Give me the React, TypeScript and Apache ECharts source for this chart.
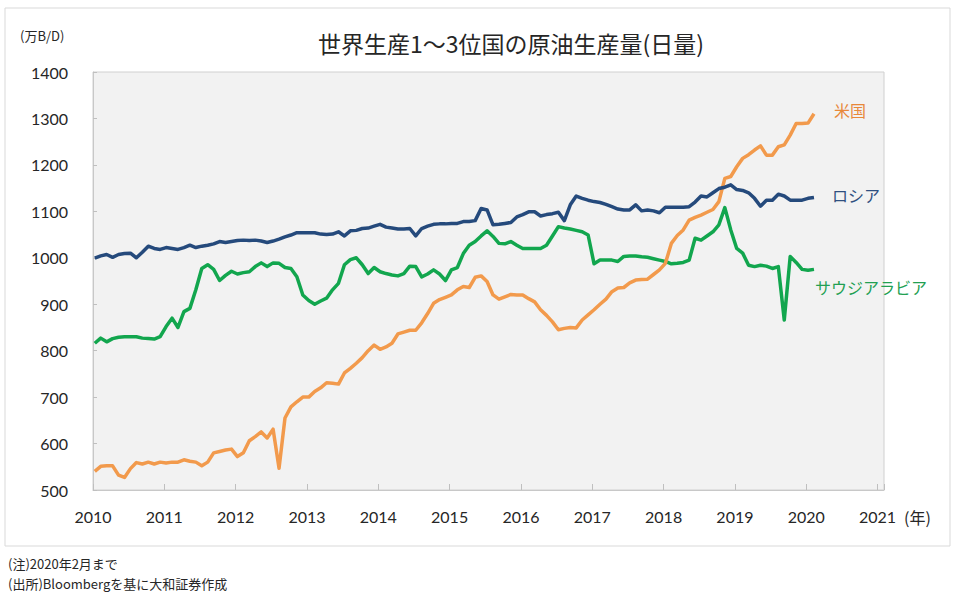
import React, { useEffect, useRef } from "react";
import * as echarts from "echarts";

// Monthly data, Jan 2010 – Feb 2020 (万B/D)
const START_YEAR = 2010;
const usValues = [
  540, 551, 552, 552, 532, 527, 546, 559, 556, 560, 556, 560,
  558, 560, 560, 565, 562, 560, 552, 560, 580, 583, 586, 588,
  572, 580, 606, 615, 625, 612, 631, 547, 655, 679, 690, 700,
  700, 712, 720, 731, 730, 728, 752, 762, 773, 785, 800, 812,
  803, 808, 816, 836, 840, 844, 844, 860, 880, 902, 910, 915,
  920, 931, 938, 936, 958, 961, 949, 920, 911, 916, 921, 920,
  920, 912, 905, 888, 876, 862, 845, 848, 850, 849, 866, 877,
  888, 900, 911, 927, 935, 936, 946, 952, 953, 954, 964, 974,
  988, 1031, 1048, 1060, 1081, 1087, 1092, 1098, 1104, 1121, 1171, 1175,
  1196, 1214, 1222, 1232, 1241, 1221, 1221, 1239, 1243, 1264, 1289, 1289,
  1290, 1310,
];
const russiaValues = [
  999, 1004, 1007, 1001, 1007, 1009, 1010, 1000, 1012, 1025, 1020, 1018,
  1022, 1020, 1018, 1022, 1027, 1022, 1025, 1027, 1030, 1035, 1033, 1035,
  1037, 1038, 1037, 1038, 1036, 1033, 1036, 1040, 1045, 1049, 1054, 1054,
  1054, 1054, 1051, 1050, 1051, 1056, 1047, 1058, 1059, 1063, 1064, 1068,
  1072, 1066, 1064, 1062, 1062, 1063, 1047, 1063, 1068, 1072, 1073, 1073,
  1074, 1074, 1078, 1078, 1080, 1106, 1103, 1071, 1072, 1074, 1076, 1088,
  1093, 1099, 1099, 1090, 1093, 1095, 1098, 1080, 1114, 1133, 1128, 1124,
  1121, 1119, 1115, 1110, 1105, 1103, 1103, 1114, 1101, 1103, 1101, 1097,
  1109, 1109, 1109, 1109, 1110, 1120, 1133, 1131, 1140, 1149, 1152, 1157,
  1147, 1145, 1140, 1128, 1111, 1124, 1124, 1137, 1133, 1124, 1124, 1124,
  1128, 1130,
];
const saudiValues = [
  816, 827, 819, 826, 829, 830, 830, 830, 827, 826, 825, 830,
  852, 870, 850, 884, 891, 931, 977, 985, 975, 951, 962, 971,
  965, 968, 970, 981, 989, 981, 989, 988, 979, 977, 959, 920,
  908, 900, 907, 913, 931, 945, 985, 996, 1000, 985, 966, 979,
  970, 966, 963, 961, 966, 982, 981, 959, 965, 974, 965, 951,
  974, 979, 1009, 1027, 1035, 1047, 1058, 1046, 1031, 1030, 1035, 1027,
  1020, 1020, 1020, 1020, 1027, 1047, 1067, 1064, 1062, 1059, 1056, 1049,
  987, 995, 995, 995, 992, 1003, 1004, 1004, 1002, 1001, 998, 995,
  992, 987, 988, 990, 995, 1042, 1038, 1047, 1056, 1071, 1108, 1060,
  1020, 1010, 984, 981, 984, 982, 977, 981, 866, 1003, 990, 975,
  973, 975,
];
const seriesNames = ["米国", "ロシア", "サウジアラビア"];
const yearTicks = [2010, 2011, 2012, 2013, 2014, 2015, 2016, 2017, 2018, 2019, 2020, 2021];

const toPairs = (vals: number[]) =>
  vals.map((v, i) => [START_YEAR + (i + 0.3) / 12, v]);

const NUM_FONT = "Lato, 'Noto Sans CJK JP', sans-serif";
const CJK_FONT = "'Noto Sans CJK JP', sans-serif";

export default function App() {
  const ref = useRef<HTMLDivElement>(null);
  useEffect(() => {
    document.body.style.margin = "0";
    if (!ref.current) return;
    const chart = echarts.init(ref.current, null, { renderer: "svg" });
    const colors = ["#F29A4C", "#254A7C", "#12A64E"];
    chart.setOption({
      animation: false,
      backgroundColor: "#ffffff",
      grid: {
        left: 93,
        right: 76,
        top: 72,
        bottom: 113,
        show: true,
        backgroundColor: "#F2F2F2",
        borderColor: "#D0D0D0",
        borderWidth: 1,
      },
      xAxis: {
        type: "value",
        min: yearTicks[0],
        max: 2021.09,
        interval: 1,
        splitLine: { show: false },
        axisLine: { show: true, lineStyle: { color: "#C8C8C8" } },
        axisTick: { show: true, inside: true, length: 6, lineStyle: { color: "#BFBFBF" } },
        axisLabel: {
          margin: 18,
          fontSize: 16,
          color: "#262626",
          fontFamily: NUM_FONT,
          formatter: (v: number) => (yearTicks.includes(v) ? String(v) : ""),
          showMaxLabel: true,
        },
      },
      yAxis: {
        type: "value",
        min: 500,
        max: 1400,
        interval: 100,
        splitLine: { show: false },
        axisLine: { show: true, lineStyle: { color: "#C8C8C8" } },
        axisTick: { show: true, inside: true, length: 4, lineStyle: { color: "#BFBFBF" } },
        axisLabel: {
          margin: 25,
          fontSize: 16,
          color: "#262626",
          fontFamily: NUM_FONT,
          formatter: (v: number) => String(v),
        },
      },
      series: [usValues, russiaValues, saudiValues].map((vals, k) => ({
        name: seriesNames[k],
        type: "line",
        data: toPairs(vals),
        showSymbol: false,
        symbol: "none",
        lineStyle: { width: 3.5, color: colors[k], join: "round" },
        z: k === 0 ? 3 : k === 1 ? 4 : 2,
      })),
      graphic: [
        {
          type: "rect",
          shape: { x: 5, y: 8, width: 945, height: 538 },
          style: { fill: "none", stroke: "#D9D9D9", lineWidth: 1 },
          silent: true,
          z: -1,
        },
        {
          type: "text",
          x: 511,
          y: 43,
          style: {
            text: "世界生産1～3位国の原油生産量(日量)",
            fontSize: 23,
            fontFamily: CJK_FONT,
            fill: "#262626",
            textAlign: "center",
            textVerticalAlign: "middle",
          },
        },
        {
          type: "text",
          x: 20,
          y: 35,
          style: {
            text: "(万B/D)",
            fontSize: 13,
            fontFamily: CJK_FONT,
            fill: "#262626",
            textVerticalAlign: "middle",
          },
        },
        {
          type: "text",
          x: 904,
          y: 517,
          style: {
            text: "(年)",
            fontSize: 16,
            fontFamily: CJK_FONT,
            fill: "#262626",
            textVerticalAlign: "middle",
          },
        },
        {
          type: "text",
          x: 834,
          y: 110,
          style: {
            text: seriesNames[0],
            fontSize: 16,
            fontFamily: CJK_FONT,
            fill: "#E8883A",
            textVerticalAlign: "middle",
          },
        },
        {
          type: "text",
          x: 832,
          y: 195,
          style: {
            text: seriesNames[1],
            fontSize: 16,
            fontFamily: CJK_FONT,
            fill: "#2F4F80",
            textVerticalAlign: "middle",
          },
        },
        {
          type: "text",
          x: 815,
          y: 287,
          style: {
            text: seriesNames[2],
            fontSize: 16,
            fontFamily: CJK_FONT,
            fill: "#22A052",
            textVerticalAlign: "middle",
          },
        },
        {
          type: "text",
          x: 8,
          y: 563,
          style: {
            text: "(注)2020年2月まで",
            fontSize: 13,
            fontFamily: CJK_FONT,
            fill: "#262626",
            textVerticalAlign: "middle",
          },
        },
        {
          type: "text",
          x: 8,
          y: 583,
          style: {
            text: "(出所)Bloombergを基に大和証券作成",
            fontSize: 13,
            fontFamily: CJK_FONT,
            fill: "#262626",
            textVerticalAlign: "middle",
          },
        },
      ],
    });
    return () => chart.dispose();
  }, []);
  return <div ref={ref} style={{ width: 960, height: 603 }} />;
}
